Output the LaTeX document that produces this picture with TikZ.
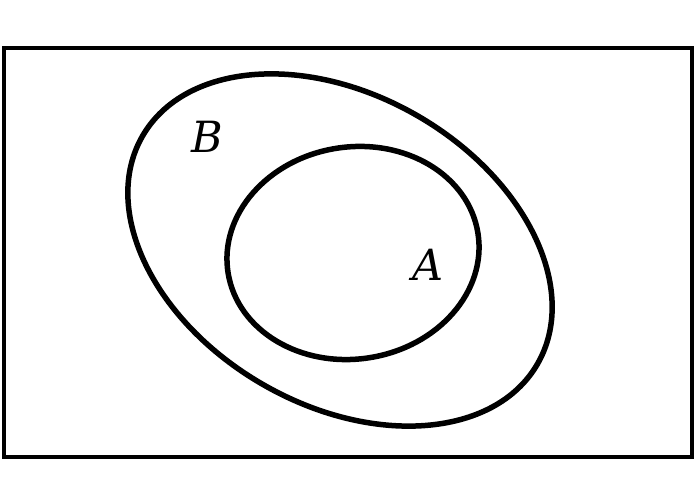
\documentclass[tikz,border=0pt]{standalone}
\usepackage{fontspec}
\setmainfont{DejaVu Serif}
\usepackage{tikz}

\begin{document}
\begin{tikzpicture}[
    x=1pt, y=1pt,
    outline/.style={draw=black, line width=5.5pt},
    setlabel/.style={font=\fontsize{43}{50}\selectfont\itshape, inner sep=0pt},
]
    \useasboundingbox (0,0) rectangle (694,503);
    % Universe
    \draw[black, line width=4pt] (4,46) rectangle (692,455);
    % Sets
    \draw[outline, rotate around={-30:(340,253)}] (340,253) ellipse (228 and 155);
    \draw[outline, rotate around={9:(353,250)}] (353,250) ellipse (126.5 and 106);
    % Labels
    \node[setlabel] (labB) at (207,366) {B};
    \node[setlabel] (labA) at (428,238) {A};
\end{tikzpicture}
\end{document}
